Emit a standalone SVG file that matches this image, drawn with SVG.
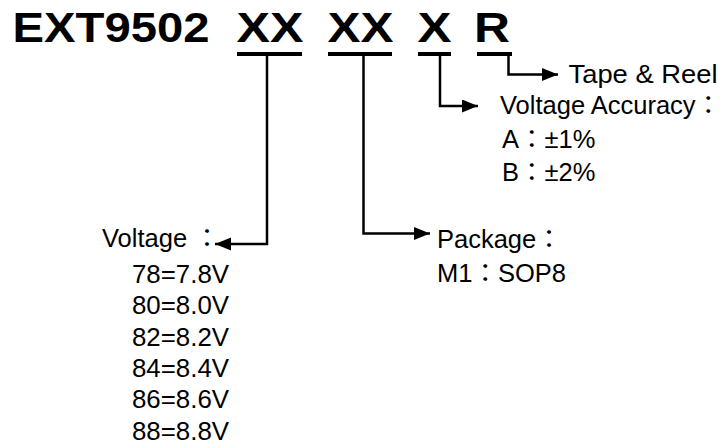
<svg xmlns="http://www.w3.org/2000/svg" width="723" height="443" viewBox="0 0 723 443">
<style>
.t{font-family:"Liberation Sans",Arial,"Noto Sans CJK TC",sans-serif;font-size:25.5px;fill:#000}
.b{font-family:"Liberation Sans",Arial,sans-serif;font-size:42px;font-weight:bold;fill:#000}
.ul{fill:#000}
.c{fill:none;stroke:#000;stroke-width:2.5;marker-end:url(#ah)}
</style>
<defs>
<marker id="ah" markerUnits="userSpaceOnUse" markerWidth="17" markerHeight="14" refX="16" refY="6.5" orient="auto">
<path d="M0,0 L16,6.5 L0,13 z" fill="#000"/>
</marker>
</defs>
<rect width="723" height="443" fill="#fff"/>
<g id="title">
<text class="b" x="12.5" y="42" textLength="197" lengthAdjust="spacingAndGlyphs">EXT9502</text>
</g>
<g id="code-voltage">
<text class="b" x="236.5" y="42" textLength="67" lengthAdjust="spacingAndGlyphs">XX</text>
<rect class="ul" x="237" y="52" width="65" height="4"/>
</g>
<g id="code-package">
<text class="b" x="327.5" y="42" textLength="66" lengthAdjust="spacingAndGlyphs">XX</text>
<rect class="ul" x="328" y="52" width="64" height="4"/>
</g>
<g id="code-accuracy">
<text class="b" x="417.5" y="42" textLength="34" lengthAdjust="spacingAndGlyphs">X</text>
<rect class="ul" x="418" y="52" width="33" height="4"/>
</g>
<g id="code-reel">
<text class="b" x="474" y="42" textLength="36" lengthAdjust="spacingAndGlyphs">R</text>
<rect class="ul" x="477" y="52" width="35" height="4"/>
</g>
<g id="connectors">
<path class="c" d="M267,56 V244 H215"/>
<path class="c" d="M363.5,56 V233.5 H430"/>
<path class="c" d="M440,56 V106 H478"/>
<path class="c" d="M508.5,56 V74.5 H558"/>
</g>
<g id="tape-reel">
<text class="t" x="568.5" y="82.5" textLength="149" lengthAdjust="spacingAndGlyphs">Tape &amp; Reel</text>
</g>
<g id="accuracy">
<text class="t" x="500" y="114">Voltage Accuracy：</text>
<text class="t" x="502" y="148">A：±1%</text>
<text class="t" x="502" y="181">B：±2%</text>
</g>
<g id="package">
<text class="t" x="437" y="248">Package：</text>
<text class="t" x="437" y="282">M1：SOP8</text>
</g>
<g id="voltage">
<text class="t" x="102" y="247">Voltage ：</text>
<text class="t" x="132" y="283" textLength="97" lengthAdjust="spacingAndGlyphs">78=7.8V</text>
<text class="t" x="132" y="314.3" textLength="97" lengthAdjust="spacingAndGlyphs">80=8.0V</text>
<text class="t" x="132" y="345.6" textLength="97" lengthAdjust="spacingAndGlyphs">82=8.2V</text>
<text class="t" x="132" y="376.9" textLength="97" lengthAdjust="spacingAndGlyphs">84=8.4V</text>
<text class="t" x="132" y="408.2" textLength="97" lengthAdjust="spacingAndGlyphs">86=8.6V</text>
<text class="t" x="132" y="439.5" textLength="97" lengthAdjust="spacingAndGlyphs">88=8.8V</text>
</g>
</svg>
